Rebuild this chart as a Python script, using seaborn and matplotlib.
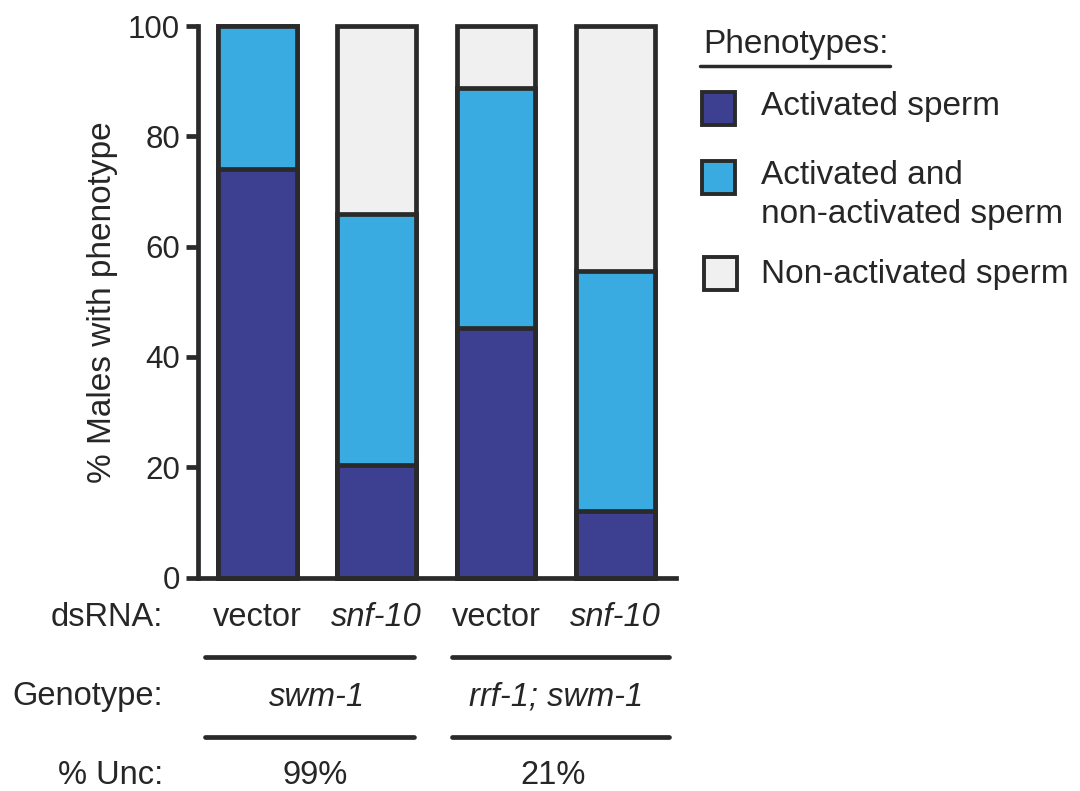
import matplotlib
matplotlib.use("Agg")
import matplotlib.pyplot as plt
import seaborn as sns
import pandas as pd
from matplotlib.patches import Rectangle
from matplotlib.lines import Line2D
import matplotlib.transforms as mtransforms

# Data
bar_ids = ["swm-1 vector", "swm-1 snf-10", "rrf-1 vector", "rrf-1 snf-10"]
dsrna = ["vector", "snf-10", "vector", "snf-10"]
genotypes = ["swm-1", "rrf-1; swm-1"]
pct_unc = ["99%", "21%"]
activated = [74.1, 20.4, 45.2, 12.0]
mixed = [25.9, 45.5, 43.6, 43.6]
non_activated = [0.0, 34.1, 11.2, 44.4]
phenotypes = ["Activated sperm", "Activated and\nnon-activated sperm", "Non-activated sperm"]

dark = "#3d3f91"
light = "#3aabe1"
grey = "#f0f0f0"
edge = "#2a2a2a"

sns.set_theme(style="ticks")
plt.rcParams["font.family"] = ["Liberation Sans", "DejaVu Sans"]

df = pd.DataFrame({"bar": bar_ids, "act": activated, "mix": mixed, "non": non_activated})
df["top_act"] = df["act"]
df["top_mix"] = df["act"] + df["mix"]
df["top_all"] = df["act"] + df["mix"] + df["non"]

fig = plt.figure(figsize=(10.8, 7.91), dpi=100)
ax = fig.add_axes([0.1833, 0.2699, 0.4426, 0.6972])

# stacked look: draw cumulative totals from back to front
for col, c in [("top_all", grey), ("top_mix", light), ("top_act", dark)]:
    sns.barplot(data=df, x="bar", y=col, color=c, saturation=1, width=0.66,
                edgecolor=edge, linewidth=3.4, ax=ax)
for p in ax.patches:
    p.set_clip_on(False)

ax.set_xlim(-0.5, 3.51)
ax.set_ylim(0, 100)
ax.set_yticks([0, 20, 40, 60, 80, 100])
ax.tick_params(axis="y", direction="out", length=9, width=3.4, labelsize=22.5, pad=4, color=edge)
ax.tick_params(axis="x", length=0, labelbottom=False)
ax.set_xlabel("")
ax.set_ylabel("% Males with phenotype", fontsize=24, labelpad=7)
sns.despine(ax=ax)
for s in ["left", "bottom"]:
    ax.spines[s].set_linewidth(3.4)
    ax.spines[s].set_color(edge)

# table under the axis
trans = mtransforms.blended_transform_factory(ax.transData, fig.transFigure)
fs = 23.5
fig.text(163 / 1080, 1 - 617 / 791, "dsRNA:", ha="right", va="center", fontsize=fs)
fig.text(163 / 1080, 1 - 697 / 791, "Genotype:", ha="right", va="center", fontsize=fs)
fig.text(163 / 1080, 1 - 775 / 791, "% Unc:", ha="right", va="center", fontsize=fs)
for i, lab in enumerate(dsrna):
    ax.text(i, 1 - 617 / 791, lab, transform=trans, ha="center", va="center", fontsize=fs,
            style="italic" if lab != "vector" else "normal")
for j, g in enumerate(genotypes):
    ax.text(2 * j + 0.5, 1 - 697 / 791, g, transform=trans, ha="center", va="center",
            fontsize=fs, style="italic")
    ax.text(2 * j + 0.48, 1 - 775 / 791, pct_unc[j], transform=trans, ha="center",
            va="center", fontsize=fs)
for y in [657, 737]:
    for x0, x1 in [(-0.44, 1.31), (1.63, 3.45)]:
        ax.add_line(Line2D([x0, x1], [1 - y / 791] * 2, transform=trans, color=edge,
                           lw=3.4, clip_on=False))

# legend drawn by hand
fig.text(703 / 1080, 1 - 44 / 791, "Phenotypes:", ha="left", va="center", fontsize=24)
fig.add_artist(Line2D([700 / 1080, 890 / 1080], [1 - 66 / 791] * 2, color=edge, lw=2.5))
sq = [(702, 92), (702, 161), (704, 257)]
txt_y = [107, 195, 275]
for (sx, sy), c, lab, ty in zip(sq, [dark, light, grey], phenotypes, txt_y):
    fig.add_artist(Rectangle((sx / 1080, 1 - (sy + 33) / 791), 33 / 1080, 33 / 791,
                             transform=fig.transFigure, facecolor=c, edgecolor=edge, lw=2.8))
    fig.text(761 / 1080, 1 - ty / 791, lab, ha="left", va="center", fontsize=24,
             linespacing=1.3)

fig.savefig("out.png", dpi=100)
